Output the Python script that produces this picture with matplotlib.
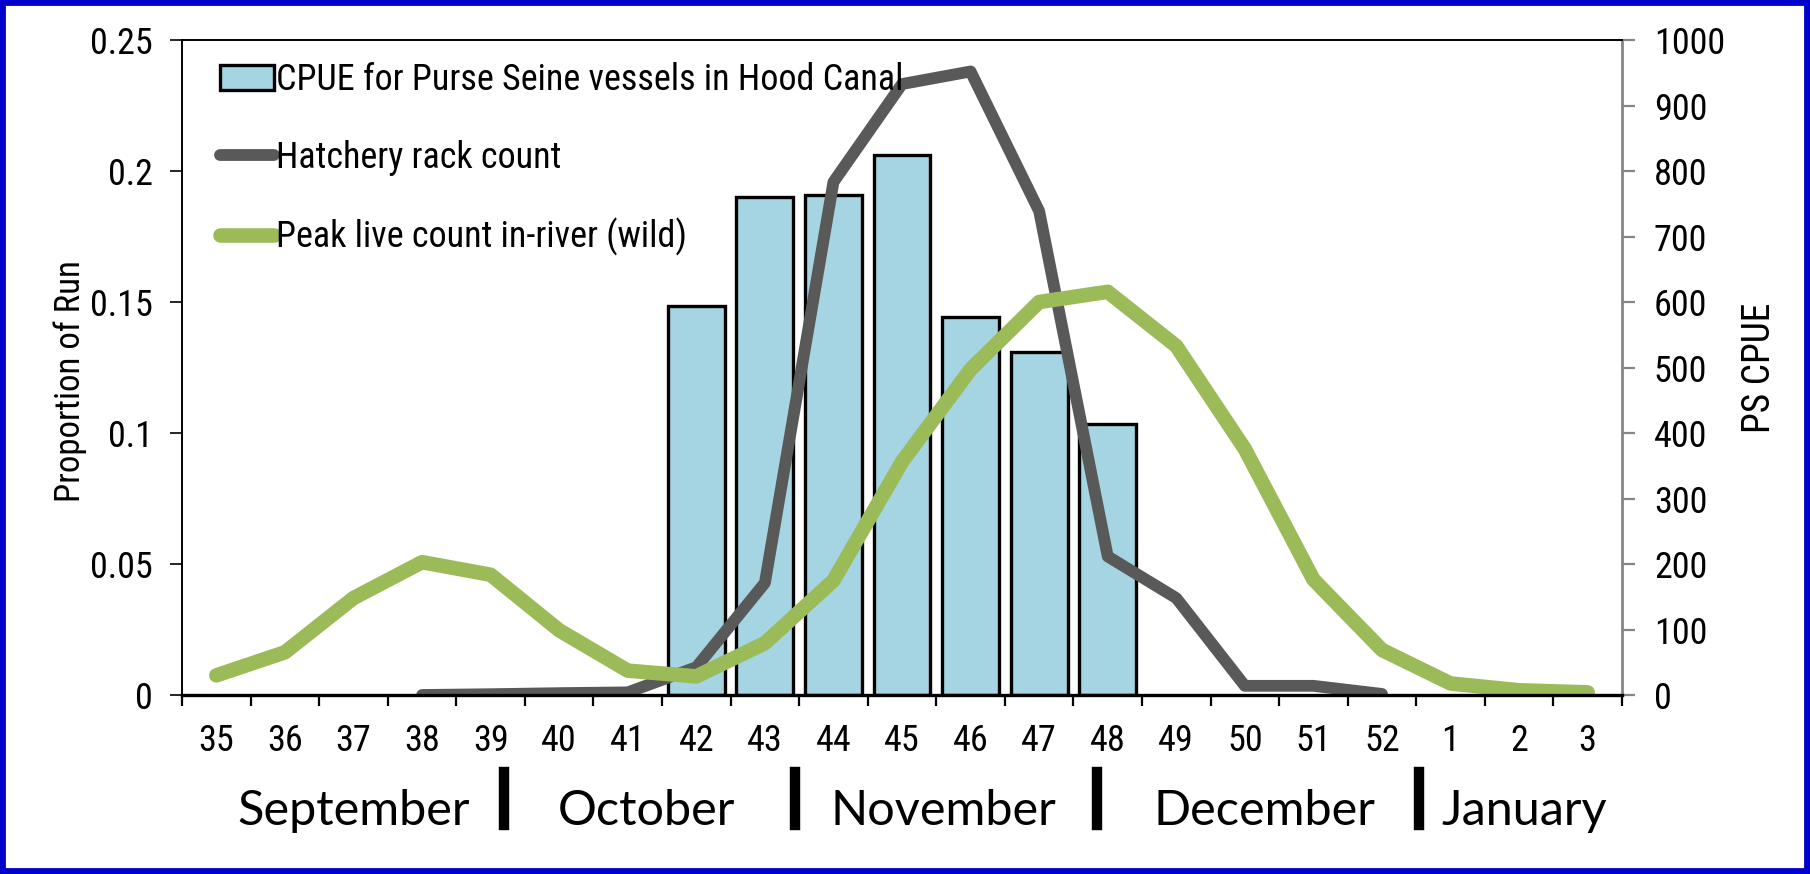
import matplotlib
matplotlib.use('Agg')
from matplotlib import pyplot as plt
from matplotlib.patches import Rectangle
from matplotlib.lines import Line2D
from matplotlib import font_manager

# week labels on the x axis
weeks = ['35', '36', '37', '38', '39', '40', '41', '42', '43', '44', '45',
         '46', '47', '48', '49', '50', '51', '52', '1', '2', '3']

# purse seine CPUE (right axis), weeks 42-48
cpue_weeks = ['42', '43', '44', '45', '46', '47', '48']
cpue = [594, 761, 763, 825, 577, 524, 414]

# hatchery rack count, proportion of run, weeks 38-52
hatch_weeks = ['38', '39', '40', '41', '42', '43', '44', '45', '46', '47',
               '48', '49', '50', '51', '52']
hatch = [0.0, 0.0003, 0.0007, 0.001, 0.0106, 0.0428, 0.1958, 0.2332, 0.238,
         0.1847, 0.0529, 0.037, 0.0035, 0.0035, 0.0004]

# peak live count in-river (wild), all weeks
wild = [0.0075, 0.0163, 0.037, 0.0507, 0.0459, 0.0247, 0.0093, 0.0071, 0.0198,
        0.0437, 0.089, 0.1243, 0.15, 0.1539, 0.1332, 0.0939, 0.0441, 0.0172,
        0.0044, 0.0018, 0.001]

months = ['September', 'October', 'November', 'December', 'January']

have = {f.name for f in font_manager.fontManager.ttflist}
narrow = [f for f in ['Liberation Sans Narrow', 'Roboto Condensed', 'Roboto']
          if f in have] + ['DejaVu Sans']

fig = plt.figure(figsize=(18.1, 8.74), dpi=100)
ax = fig.add_axes([0.1006, 0.2048, 0.7955, 0.7494])
ax2 = ax.twinx()

pos = {w: i for i, w in enumerate(weeks)}

bars = ax2.bar([pos[w] for w in cpue_weeks], cpue, width=0.83,
               color='#A5D5E2', edgecolor='black', linewidth=2.4,
               label='CPUE for Purse Seine vessels in Hood Canal')
l1, = ax.plot([pos[w] for w in hatch_weeks], hatch, color='#595959', lw=8.5,
              solid_capstyle='round', label='Hatchery rack count')
l2, = ax.plot(range(len(weeks)), wild, color='#9BBB59', lw=10.5,
              solid_capstyle='round', label='Peak live count in-river (wild)')

ax.set_zorder(ax2.get_zorder() + 1)
ax.patch.set_visible(False)

ax.set_xlim(-0.5, len(weeks) - 0.5)
ax.set_ylim(0, 0.25)
ax2.set_ylim(0, 1000)

ax.set_yticks([0, 0.05, 0.1, 0.15, 0.2, 0.25])
ax.set_yticklabels(['0', '0.05', '0.1', '0.15', '0.2', '0.25'])
ax2.set_yticks(range(0, 1001, 100))

ax.set_xticks(range(len(weeks)))
ax.set_xticklabels(weeks)
ax.set_xticks([i - 0.5 for i in range(len(weeks) + 1)], minor=True)
ax.tick_params(axis='x', which='major', length=0, pad=20)
ax.tick_params(axis='x', which='minor', length=8, width=1.6, color='black')
ax.tick_params(axis='y', length=9, width=1.2, pad=12)
ax2.tick_params(axis='y', length=9, width=1.6, color='#868686', pad=14)

for lab in ax.get_xticklabels() + ax.get_yticklabels() + ax2.get_yticklabels():
    lab.set_family(narrow)
    lab.set_fontsize(26)

for s in ['left', 'top']:
    ax.spines[s].set_linewidth(1.4)
ax.spines['bottom'].set_linewidth(2.4)
ax.spines['right'].set_visible(False)
for s in ['left', 'top', 'bottom']:
    ax2.spines[s].set_visible(False)
ax2.spines['right'].set_color('#868686')
ax2.spines['right'].set_linewidth(2.0)

ax.set_ylabel('Proportion of Run', family=narrow, fontsize=25)
ax.yaxis.set_label_coords(-0.066, 0.48)
ax2.set_ylabel('PS CPUE', family=narrow, fontsize=27)
ax2.yaxis.set_label_coords(1.083, 0.5)

ax.legend([bars, l1, l2], [bars.get_label(), l1.get_label(), l2.get_label()],
          loc='upper left', bbox_to_anchor=(0.016, 0.988), frameon=False,
          prop={'family': narrow, 'size': 26}, handlelength=1.5,
          handletextpad=0.05, labelspacing=1.15, borderaxespad=0)

# month captions under the week numbers, with black separators
month_x = [354, 646, 943, 1264, 1524]
for m, x in zip(months, month_x):
    fig.text(x / 1810, 1 - 811 / 874, m, ha='center', va='center',
             family=['Lato', 'DejaVu Sans'], fontsize=35)
for x in [504, 795, 1097, 1419]:
    fig.add_artist(Line2D([x / 1810, x / 1810], [1 - 772 / 874, 1 - 825 / 874],
                          color='black', lw=7.5, transform=fig.transFigure))

fig.add_artist(Rectangle((0, 0), 1, 1, transform=fig.transFigure, fill=False,
                         edgecolor='#0000CC', linewidth=8.5))

fig.savefig('out.png', dpi=100, facecolor='white')
